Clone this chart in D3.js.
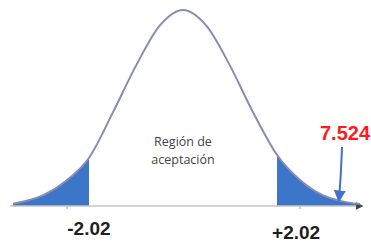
<!DOCTYPE html>
<html>
<head>
<meta charset="utf-8">
<script src="https://cdn.jsdelivr.net/npm/d3@7"></script>
<style>
  html, body { margin: 0; padding: 0; background: #fff; }
  svg { display: block; }
</style>
</head>
<body>
<div id="container"></div>
<script>
const WIDTH = 371;
const HEIGHT = 242;

// curve: t value and height relative to the peak
const curveT = [-3.65, -3.0, -2.5, -2.02, -1.5, -1.0, -0.5, 0, 0.5, 1.0, 1.5, 2.02, 2.5, 3.0, 3.4, 3.8];
const curveH = [0.012, 0.055, 0.13, 0.245, 0.48, 0.72, 0.92, 1.0, 0.92, 0.72, 0.48, 0.26, 0.135, 0.055, 0.025, 0.01];

const critical = [-2.02, 2.02];
const critLabels = ["-2.02", "+2.02"];
const minorTicks = [-2.5, 2.5];
const statLabel = "7.524";
const statT = 3.35;
const regionLines = ["Región de", "aceptación"];

const points = curveT.map((t, i) => ({ t: t, h: curveH[i] }));

const xScale = d3.scaleLinear().domain([-3.65, 3.8]).range([13, 360]);
const yScale = d3.scaleLinear().domain([0, 1]).range([206, 10]);

const svg = d3
  .select("#container")
  .append("svg")
  .attr("width", WIDTH)
  .attr("height", HEIGHT);

const defs = svg.append("defs");

defs
  .append("marker")
  .attr("id", "axisHead")
  .attr("viewBox", "0 0 10 10")
  .attr("refX", 8)
  .attr("refY", 5)
  .attr("markerWidth", 5)
  .attr("markerHeight", 5)
  .attr("orient", "auto")
  .append("path")
  .attr("d", "M0,0 L10,5 L0,10 z")
  .style("fill", "#444");

defs
  .append("marker")
  .attr("id", "blueHead")
  .attr("viewBox", "0 0 10 10")
  .attr("refX", 8)
  .attr("refY", 5)
  .attr("markerWidth", 6)
  .attr("markerHeight", 6)
  .attr("orient", "auto")
  .append("path")
  .attr("d", "M0,0 L10,5 L0,10 z")
  .style("fill", "#3f6fd0");

// clip rects for the two rejection tails
defs
  .append("clipPath")
  .attr("id", "leftTail")
  .append("rect")
  .attr("x", 0)
  .attr("y", 0)
  .attr("width", xScale(critical[0]))
  .attr("height", HEIGHT);

defs
  .append("clipPath")
  .attr("id", "rightTail")
  .append("rect")
  .attr("x", xScale(critical[1]))
  .attr("y", 0)
  .attr("width", WIDTH - xScale(critical[1]))
  .attr("height", HEIGHT);

const area = d3
  .area()
  .x(d => xScale(d.t))
  .y0(yScale(0))
  .y1(d => yScale(d.h))
  .curve(d3.curveMonotoneX);

const line = d3
  .line()
  .x(d => xScale(d.t))
  .y(d => yScale(d.h))
  .curve(d3.curveMonotoneX);

["leftTail", "rightTail"].forEach(id => {
  svg
    .append("path")
    .datum(points)
    .attr("clip-path", `url(#${id})`)
    .attr("d", area)
    .style("fill", "#3b76c8");
});

// baseline axis
const axis = d3.axisBottom(xScale).tickValues(minorTicks).tickSize(3).tickFormat("");
const gAxis = svg
  .append("g")
  .attr("transform", `translate(0,${yScale(0)})`)
  .call(axis);
gAxis.select(".domain").remove();
gAxis.selectAll(".tick line").style("stroke", "#999");

svg
  .append("line")
  .attr("x1", xScale.range()[0] - 3)
  .attr("x2", xScale.range()[1] + 2)
  .attr("y1", yScale(0))
  .attr("y2", yScale(0))
  .attr("marker-end", "url(#axisHead)")
  .style("stroke", "#c4c4c4")
  .style("stroke-width", 1.5);

svg
  .append("path")
  .datum(points)
  .attr("d", line)
  .style("fill", "none")
  .style("stroke", "#8b8bb0")
  .style("stroke-width", 2);

// critical value labels
svg
  .selectAll(".crit")
  .data(critical)
  .enter()
  .append("text")
  .attr("class", "crit")
  .attr("x", (d, i) => xScale(d) + (i === 0 ? 0 : 19))
  .attr("y", (d, i) => (i === 0 ? 235 : 239))
  .attr("text-anchor", "middle")
  .style("font-family", "'Liberation Sans', Arial, sans-serif")
  .style("font-weight", "bold")
  .style("font-size", "19px")
  .style("fill", "#1e1e1e")
  .text((d, i) => critLabels[i]);

// region label
svg
  .append("text")
  .attr("x", xScale(0))
  .attr("y", 146)
  .attr("text-anchor", "middle")
  .style("font-family", "'Open Sans', sans-serif")
  .style("font-size", "12.5px")
  .style("fill", "#444")
  .selectAll("tspan")
  .data(regionLines)
  .enter()
  .append("tspan")
  .attr("x", xScale(0))
  .attr("dy", (d, i) => (i === 0 ? 0 : 18))
  .text(d => d);

// statistic annotation
svg
  .append("text")
  .attr("x", xScale(statT) + 6)
  .attr("y", 140)
  .attr("text-anchor", "middle")
  .style("font-family", "'Liberation Sans', Arial, sans-serif")
  .style("font-weight", "bold")
  .style("font-size", "20px")
  .style("fill", "#ff1a1a")
  .text(statLabel);

const sx = xScale(statT);
svg
  .append("path")
  .attr("d", `M${sx + 3},147 Q${sx + 2},175 ${sx},200`)
  .attr("marker-end", "url(#blueHead)")
  .style("fill", "none")
  .style("stroke", "#3f6fd0")
  .style("stroke-width", 2);
</script>
</body>
</html>
